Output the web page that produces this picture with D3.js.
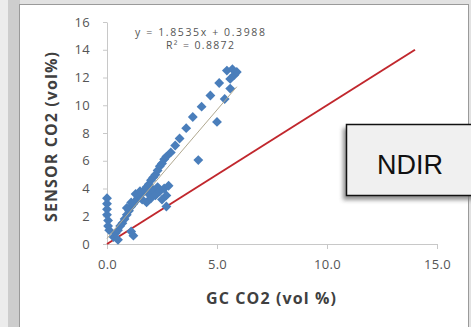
<!DOCTYPE html>
<html>
<head>
<meta charset="utf-8">
<script src="https://cdn.jsdelivr.net/npm/d3@7"></script>
<style>
  body { margin: 0; background: #e4e4e4; }
  svg { display: block; }
</style>
</head>
<body>
<div id="chart"></div>
<script>
// GC CO2 (vol %) vs SENSOR CO2 (vol%)
const gcCO2 = [
  0.0, 0.0, 0.0, 0.0, 0.05, 0.05, 0.1,
  0.3, 0.4, 0.5, 0.6, 0.7, 0.8, 0.9, 1.0, 1.1, 1.2, 1.3, 1.4, 1.5, 1.6, 1.7, 1.8, 1.9, 2.0, 2.1, 2.2, 2.3, 2.4, 2.5, 2.6, 2.7,
  0.9, 1.1, 1.3, 1.5, 1.6, 1.8, 1.9, 2.0, 2.1, 2.2, 2.3, 2.4, 2.6, 2.7, 2.5, 2.8, 2.7, 1.2, 1.1, 0.5,
  2.9, 3.1, 3.3, 3.6, 3.9, 4.3, 4.7, 5.1, 5.35, 5.0, 4.15, 5.6, 5.45, 5.8, 5.9, 5.6, 5.7
];
const sensorCO2 = [
  3.3, 2.9, 2.5, 2.1, 1.7, 1.3, 1.0,
  0.5, 0.8, 1.0, 1.3, 1.5, 1.8, 2.1, 2.4, 2.7, 2.9, 3.1, 3.3, 3.5, 3.7, 3.9, 4.1, 4.3, 4.6, 4.8, 5.0, 5.3, 5.6, 5.8, 6.1, 6.3,
  2.6, 3.0, 3.6, 3.8, 3.2, 3.0, 3.6, 3.3, 3.9, 3.5, 4.1, 3.8, 4.0, 3.5, 3.2, 4.2, 2.7, 0.6, 0.9, 0.3,
  6.6, 7.1, 7.6, 8.35, 9.15, 9.9, 10.7, 11.6, 10.45, 8.8, 6.05, 11.2, 12.5, 12.2, 12.4, 11.9, 12.6
];
const xTicks = [0, 5, 10, 15];
const yTicks = [0, 2, 4, 6, 8, 10, 12, 14, 16];
const slope = 1.8535, intercept = 0.3988;
const refLine = [[0, 0], [14, 14]];
const equationText = "y = 1.8535x + 0.3988";
const r2Text = "R\u00b2 = 0.8872";
const boxLabel = "NDIR";

const W = 471, H = 327;
const svg = d3.select('#chart').append('svg').attr('width', W).attr('height', H);

// background frame
svg.append('rect').attr('width', W).attr('height', H).attr('fill', '#e2e2e2');
svg.append('rect').attr('x', 0).attr('y', 0).attr('width', 8).attr('height', H).attr('fill', '#ececec');
svg.append('rect').attr('x', 8).attr('y', 0).attr('width', 12).attr('height', H).attr('fill', '#cdcdcd');
svg.append('rect').attr('x', 19.5).attr('y', 4.5).attr('width', 449).attr('height', H)
  .attr('fill', '#fff').attr('stroke', '#9a9a9a');

const x = d3.scaleLinear().domain([0, 15]).range([107, 437]);
const y = d3.scaleLinear().domain([0, 16]).range([244, 22]);

const font = '"Open Sans", "Liberation Sans", sans-serif';

// axes
const xAxis = svg.append('g').attr('transform', 'translate(0,244)')
  .call(d3.axisBottom(x).tickValues(xTicks).tickFormat(d3.format('.1f')).tickSize(5).tickSizeOuter(0));
const yAxis = svg.append('g').attr('transform', 'translate(107,0)')
  .call(d3.axisLeft(y).tickValues(yTicks).tickSize(4).tickSizeOuter(0).tickPadding(13));
[xAxis, yAxis].forEach(g => {
  g.select('.domain').attr('stroke', '#c8c8c8');
  g.selectAll('.tick line').attr('stroke', '#c8c8c8');
  g.selectAll('text').attr('fill', '#555').style('font-family', font).style('font-size', '13px')
    .style('letter-spacing', '0.3px');
});
xAxis.selectAll('text').attr('dy', '1.3em');

// red 1:1 reference line
svg.append('line')
  .attr('x1', x(refLine[0][0])).attr('y1', y(refLine[0][1]))
  .attr('x2', x(refLine[1][0])).attr('y2', y(refLine[1][1]))
  .attr('stroke', '#c1272d').attr('stroke-width', 2);

// points
const pts = gcCO2.map((v, i) => ({ gc: v, s: sensorCO2[i] }));
svg.selectAll('.pt').data(pts).enter().append('path')
  .attr('class', 'pt')
  .attr('d', d3.symbol().type(d3.symbolDiamond2).size(62))
  .attr('transform', d => `translate(${x(d.gc)},${y(d.s)})`)
  .attr('fill', '#4a7ebb');

// linear trendline
const xExt = d3.extent(gcCO2);
svg.append('line')
  .attr('x1', x(xExt[0])).attr('y1', y(slope * xExt[0] + intercept))
  .attr('x2', x(xExt[1])).attr('y2', y(slope * xExt[1] + intercept))
  .attr('stroke', '#b0a890').attr('stroke-width', 1);

// equation
svg.append('text').attr('x', 200).attr('y', 36).attr('text-anchor', 'middle')
  .attr('textLength', 130).attr('lengthAdjust', 'spacing')
  .style('font-family', font).style('font-size', '10.5px').attr('fill', '#555').text(equationText);
svg.append('text').attr('x', 200).attr('y', 49).attr('text-anchor', 'middle')
  .attr('textLength', 68).attr('lengthAdjust', 'spacing')
  .style('font-family', font).style('font-size', '10.5px').attr('fill', '#555').text(r2Text);

// axis titles
svg.append('text').attr('x', 271).attr('y', 304).attr('text-anchor', 'middle')
  .attr('textLength', 130).attr('lengthAdjust', 'spacing')
  .style('font-family', font).style('font-size', '16px').style('font-weight', 'bold')
  .attr('fill', '#404040').text('GC CO2 (vol %)');
svg.append('text').attr('transform', 'translate(57,137) rotate(-90)').attr('text-anchor', 'middle')
  .attr('textLength', 170).attr('lengthAdjust', 'spacing')
  .style('font-family', font).style('font-size', '16px').style('font-weight', 'bold')
  .attr('fill', '#404040').text('SENSOR CO2 (vol%)');

// NDIR box with shadow
const defs = svg.append('defs');
const f = defs.append('filter').attr('id', 'sh').attr('x', '-20%').attr('y', '-20%').attr('width', '140%').attr('height', '150%');
f.append('feGaussianBlur').attr('stdDeviation', 2);
svg.append('rect').attr('x', 343).attr('y', 128).attr('width', 140).attr('height', 72)
  .attr('fill', '#777').attr('filter', 'url(#sh)').attr('opacity', 0.8);
svg.append('rect').attr('x', 346.5).attr('y', 124.5).attr('width', 140).attr('height', 71)
  .attr('fill', '#f0f0f0').attr('stroke', '#111').attr('stroke-width', 1.5);
svg.append('text').attr('x', 410).attr('y', 174).attr('text-anchor', 'middle')
  .style('font-family', '"Liberation Sans", Arial, sans-serif').style('font-size', '27px')
  .attr('fill', '#111').text(boxLabel);
</script>
</body>
</html>
